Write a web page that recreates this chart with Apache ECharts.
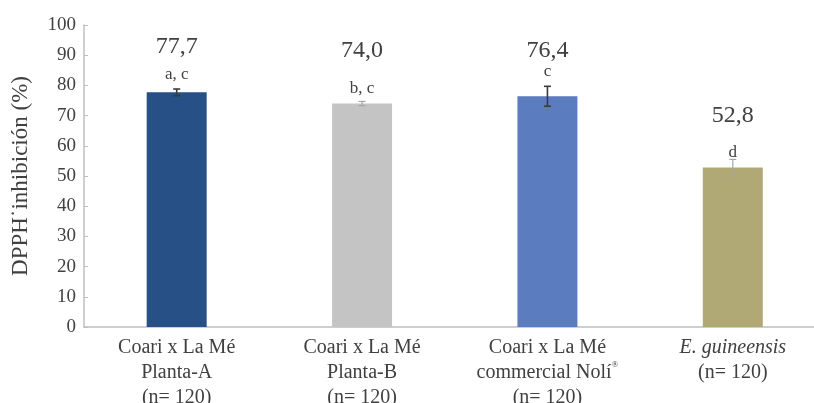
<!DOCTYPE html>
<html>
<head>
<meta charset="utf-8">
<script src="https://cdn.jsdelivr.net/npm/echarts@6/dist/echarts.min.js"></script>
<style>
  html, body { margin: 0; padding: 0; background: #ffffff; }
  #chart { width: 814px; height: 403px; }
</style>
</head>
<body>
<div id="chart"></div>
<script>
// DPPH radical inhibition by oil source
const categories = [
  'Coari x La Mé\nPlanta-A\n(n= 120)',
  'Coari x La Mé\nPlanta-B\n(n= 120)',
  'Coari x La Mé\ncommercial Nolí{sup|®}\n(n= 120)',
  '{it|E. guineensis}\n(n= 120)'
];
const inhibition = [77.7, 74.0, 76.4, 52.8];
const errorHalfWidth = [1.1, 0.7, 3.3, 2.7];
const groupLetters = ['a, c', 'b, c', 'c', 'd'];
const yTicks = [0, 10, 20, 30, 40, 50, 60, 70, 80, 90, 100];

const barColors = ['#265086', '#c4c4c4', '#5b7dc0', '#b0a975'];
const errorColors = ['#3a3a3a', '#a6a6a6', '#3a3a3a', '#a6a6a6'];
// vertical placement of the two annotation lines above each bar, in px
const valueRise = [46, 53, 46, 51.5];
const letterRise = [17.5, 14.5, 24.5, 15.5];

const serif = '"Liberation Serif", "DejaVu Serif", serif';
const ink = '#404040';

const chart = echarts.init(document.getElementById('chart'), null, { renderer: 'canvas' });

chart.setOption({
  animation: false,
  grid: {
    left: 84, top: 25, width: 741.5, height: 302,
    containLabel: false,
    outerBoundsMode: 'none'
  },
  xAxis: {
    type: 'category',
    data: categories,
    axisLine: { lineStyle: { color: '#bfbfbf', width: 1.5 } },
    axisTick: { show: false },
    axisLabel: {
      margin: 8,
      color: ink,
      fontFamily: serif,
      fontSize: 20,
      lineHeight: 25,
      interval: 0,
      rich: {
        it: { fontStyle: 'italic', fontFamily: serif, fontSize: 20, color: ink, lineHeight: 25 },
        sup: { fontFamily: serif, fontSize: 9, color: ink, verticalAlign: 'top', lineHeight: 25, padding: [0, 0, 10, 0] }
      }
    }
  },
  yAxis: {
    type: 'value',
    min: yTicks[0],
    max: yTicks[yTicks.length - 1],
    interval: yTicks[1] - yTicks[0],
    name: 'DPPH˙inhibición (%)',
    nameLocation: 'middle',
    nameGap: 52,
    nameTextStyle: { fontFamily: serif, fontSize: 23, color: ink },
    axisLine: { show: true, lineStyle: { color: '#bfbfbf', width: 1.5 } },
    axisTick: { show: true, inside: true, length: 4, lineStyle: { color: '#bfbfbf' } },
    splitLine: { show: false },
    axisLabel: { margin: 8, color: ink, fontFamily: serif, fontSize: 19 }
  },
  series: [
    {
      type: 'bar',
      barWidth: 60,
      data: inhibition.map((v, i) => ({ value: v, itemStyle: { color: barColors[i] } })),
      z: 2
    },
    {
      type: 'custom',
      z: 5,
      data: inhibition.map((v, i) => [i, v, errorHalfWidth[i]]),
      renderItem: function (params, api) {
        const i = api.value(0);
        const v = api.value(1);
        const e = api.value(2);
        const top = api.coord([i, v + e]);
        const bot = api.coord([i, v - e]);
        const mid = api.coord([i, v]);
        const x = mid[0];
        const cap = 3.5;
        const stroke = { stroke: errorColors[i], lineWidth: errorColors[i] === '#3a3a3a' ? 1.6 : 1.2 };
        return {
          type: 'group',
          children: [
            { type: 'line', shape: { x1: x, y1: top[1], x2: x, y2: bot[1] }, style: stroke },
            { type: 'line', shape: { x1: x - cap, y1: top[1], x2: x + cap, y2: top[1] }, style: stroke },
            { type: 'line', shape: { x1: x - cap, y1: bot[1], x2: x + cap, y2: bot[1] }, style: stroke },
            {
              type: 'text',
              style: {
                x: x, y: mid[1] - valueRise[i],
                text: v.toFixed(1).replace('.', ','),
                font: '24px ' + serif,
                fill: ink, align: 'center', verticalAlign: 'middle'
              }
            },
            {
              type: 'text',
              style: {
                x: x, y: mid[1] - letterRise[i],
                text: groupLetters[i],
                font: '17px ' + serif,
                fill: ink, align: 'center', verticalAlign: 'middle'
              }
            }
          ]
        };
      }
    }
  ]
});
</script>
</body>
</html>
